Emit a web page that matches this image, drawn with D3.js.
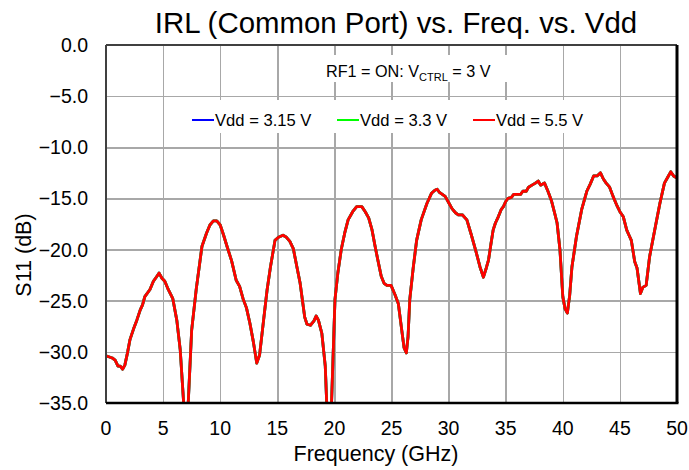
<!DOCTYPE html>
<meta charset="utf-8">
<style>
body { margin: 0; background: white; }
text { font-family: "Liberation Sans", Arial, sans-serif; fill: black; }
.grid line { stroke: #a8a8a8; stroke-width: 1.5px; shape-rendering: crispEdges; }
.grid path { stroke-width: 0; }
.tick-label { font-size: 19.5px; }
.axis-title { font-size: 21.5px; }
.title { font-size: 29.4px; }
.note { font-size: 16.2px; }
.legend-text { font-size: 16.6px; }
.trace { fill: none; stroke-width: 2.8px; stroke-linejoin: round; }
</style>
<body>
<script src="https://d3js.org/d3.v7.min.js"></script>
<script>

// frequency points (GHz)
var freqGHz = [0.0, 0.3, 0.55, 0.8, 1.05, 1.25, 1.45, 1.65, 1.9, 2.1, 2.4, 2.7, 3.0, 3.2, 3.4, 3.85, 4.15, 4.4, 4.65, 4.9,
    5.15, 5.45, 5.85, 6.2, 6.5, 6.8, 7.0, 7.2, 7.5, 7.9, 8.4, 8.8, 9.1, 9.4, 9.7, 10.0, 10.3, 10.6, 11.0, 11.4,
    11.7, 12.0, 12.3, 12.6, 12.9, 13.2, 13.45, 13.8, 14.1, 14.4, 14.8, 15.1, 15.5, 15.8, 16.1, 16.4, 16.7, 17.0, 17.4, 17.6,
    17.9, 18.2, 18.4, 18.6, 18.9, 19.2, 19.5, 19.75, 20.05, 20.3, 20.6, 20.9, 21.2, 21.6, 21.95, 22.4, 22.7, 23.0, 23.3, 23.55,
    23.8, 24.1, 24.35, 24.6, 24.96, 25.3, 25.6, 25.9, 26.1, 26.3, 26.45, 26.6, 26.9, 27.2, 27.6, 28.1, 28.5, 28.8, 29.0, 29.2,
    29.7, 30.0, 30.3, 30.6, 30.85, 31.2, 31.6, 32.0, 32.4, 32.75, 33.05, 33.3, 33.5, 33.7, 33.9, 34.1, 34.35, 34.6, 34.8, 35.0,
    35.2, 35.5, 35.7, 35.95, 36.3, 36.5, 36.8, 37.0, 37.3, 37.6, 37.85, 38.05, 38.4, 38.7, 39.0, 39.3, 39.5, 39.75, 40.0, 40.2,
    40.4, 40.6, 40.8, 41.2, 41.65, 42.1, 42.4, 42.7, 43.0, 43.3, 43.55, 43.8, 44.1, 44.4, 44.7, 45.0, 45.3, 45.6, 45.8, 46.0,
    46.3, 46.5, 46.8, 47.0, 47.3, 47.6, 48.1, 48.5, 48.9, 49.2, 49.45, 49.7, 50.0];

// S11 (dB) for Vdd = 5.5 V (drawn on top, the other two traces sit under it)
var s11Vdd55 = [-30.4, -30.5, -30.6, -30.8, -31.4, -31.4, -31.7, -31.3, -30.0, -28.8, -27.8, -26.9, -25.9, -25.4, -24.6, -23.9, -23.1, -22.7, -22.3, -22.8,
    -23.1, -23.9, -24.8, -26.9, -29.8, -35.0, -40.0, -35.0, -27.9, -23.9, -19.7, -18.4, -17.6, -17.2, -17.2, -17.6, -18.6, -19.7, -21.1, -23.0,
    -23.6, -24.8, -25.7, -27.2, -29.0, -31.1, -30.3, -26.9, -24.0, -21.7, -19.1, -18.8, -18.6, -18.8, -19.2, -19.9, -21.6, -23.3, -26.6, -27.3,
    -27.4, -27.0, -26.5, -26.9, -28.2, -31.4, -40.0, -35.0, -24.9, -22.3, -20.0, -18.4, -17.1, -16.3, -15.8, -15.8, -16.3, -16.9, -18.1, -19.6,
    -21.0, -22.6, -23.3, -23.5, -23.5, -24.4, -25.3, -27.9, -29.6, -30.1, -28.5, -24.9, -21.8, -19.1, -17.1, -15.5, -14.5, -14.2, -14.1, -14.4,
    -14.8, -15.4, -16.0, -16.4, -16.6, -16.6, -17.1, -18.6, -20.2, -21.7, -22.7, -21.8, -21.0, -19.5, -18.1, -17.4, -16.8, -16.1, -15.8, -15.3,
    -15.0, -14.9, -14.6, -14.6, -14.6, -14.3, -14.3, -13.9, -13.7, -13.5, -13.3, -13.7, -13.5, -14.3, -15.2, -16.5, -17.4, -20.0, -24.6, -25.8,
    -26.2, -24.5, -21.7, -18.7, -16.1, -14.3, -13.6, -12.8, -12.8, -12.5, -13.1, -13.5, -13.9, -14.8, -15.6, -16.3, -16.8, -18.1, -18.6, -19.1,
    -21.2, -21.8, -24.3, -23.7, -23.5, -20.7, -17.8, -15.5, -13.5, -12.9, -12.4, -12.8, -13.0];

// the 3.15 V and 3.3 V traces are hidden under the 5.5 V one in the picture
var s11Vdd315 = s11Vdd55.slice();
var s11Vdd33 = s11Vdd55.slice();

var seriesNames = ["Vdd = 3.15 V", "Vdd = 3.3 V", "Vdd = 5.5 V"];
var seriesColors = ["#0000ff", "#00ff00", "#ff0000"];
var seriesValues = [s11Vdd315, s11Vdd33, s11Vdd55];

var xTicks = [0, 5, 10, 15, 20, 25, 30, 35, 40, 45, 50];
var yTicks = [0, -5, -10, -15, -20, -25, -30, -35];

// set the dimensions and margins of the graph
var margin = {top: 45, right: 12, bottom: 67, left: 106},
    width = 689 - margin.left - margin.right,
    height = 470 - margin.top - margin.bottom;

var x = d3.scaleLinear().domain([0, 50]).range([0, width]);
var y = d3.scaleLinear().domain([-35, 0]).range([height, 0]);

var root = d3.select("body").append("svg")
    .attr("width", 689)
    .attr("height", 470);

var svg = root.append("g")
    .attr("transform", "translate(" + margin.left + "," + margin.top + ")");

svg.append("defs").append("clipPath")
    .attr("id", "plot-clip")
    .append("rect")
    .attr("width", width)
    .attr("height", height);

// grid lines
svg.append("g")
    .attr("class", "grid")
    .attr("transform", "translate(0," + height + ")")
    .call(d3.axisBottom(x).tickValues(xTicks).tickSize(-height).tickFormat(""));
svg.append("g")
    .attr("class", "grid")
    .call(d3.axisLeft(y).tickValues(yTicks).tickSize(-width).tickFormat(""));

// white boxes behind the note and the legend
svg.append("rect")
    .attr("x", x(17.8)).attr("y", 10)
    .attr("width", x(35.6) - x(17.8)).attr("height", 27)
    .attr("fill", "white");
svg.append("rect")
    .attr("x", x(7.3)).attr("y", 55)
    .attr("width", x(42.5) - x(7.3)).attr("height", 33)
    .attr("fill", "white");

// traces
var line = d3.line()
    .x(function(d, i) { return x(freqGHz[i]); })
    .y(function(d) { return y(d); });

svg.append("g")
    .attr("clip-path", "url(#plot-clip)")
    .selectAll("path")
    .data(seriesValues)
    .enter().append("path")
    .attr("class", "trace")
    .attr("stroke", function(d, i) { return seriesColors[i]; })
    .attr("d", line);

// plot frame
svg.append("line").attr("x1", 0).attr("x2", width).attr("y1", 0).attr("y2", 0)
    .attr("stroke", "#404040").attr("stroke-width", 2);
svg.append("line").attr("x1", 0).attr("x2", 0).attr("y1", 0).attr("y2", height)
    .attr("stroke", "#404040").attr("stroke-width", 2);
svg.append("line").attr("x1", 0).attr("x2", width + 1.5).attr("y1", height).attr("y2", height)
    .attr("stroke", "black").attr("stroke-width", 2.5);
svg.append("line").attr("x1", width).attr("x2", width).attr("y1", 0).attr("y2", height)
    .attr("stroke", "black").attr("stroke-width", 3);

// tick labels
svg.append("g").selectAll("text")
    .data(xTicks)
    .enter().append("text")
    .attr("class", "tick-label")
    .attr("x", function(d) { return x(d); })
    .attr("y", height + 32)
    .attr("text-anchor", "middle")
    .text(function(d) { return d; });

svg.append("g").selectAll("text")
    .data(yTicks)
    .enter().append("text")
    .attr("class", "tick-label")
    .attr("x", -18)
    .attr("y", function(d) { return y(d) + 7; })
    .attr("text-anchor", "end")
    .text(function(d) { return d3.format(".1f")(d); });

// axis titles
root.append("text")
    .attr("class", "axis-title")
    .attr("x", 376)
    .attr("y", 461)
    .attr("text-anchor", "middle")
    .text("Frequency (GHz)");

root.append("text")
    .attr("class", "axis-title")
    .attr("transform", "translate(31,255) rotate(-90)")
    .attr("text-anchor", "middle")
    .text("S11 (dB)");

// chart title
root.append("text")
    .attr("class", "title")
    .attr("x", 396)
    .attr("y", 33)
    .attr("text-anchor", "middle")
    .text("IRL (Common Port) vs. Freq. vs. Vdd");

// note
var note = root.append("text")
    .attr("class", "note")
    .attr("x", 326)
    .attr("y", 77);
note.append("tspan").text("RF1 = ON: V");
note.append("tspan").attr("font-size", "11px").attr("dy", 4).text("CTRL");
note.append("tspan").attr("dy", -4).text(" = 3 V");

// legend
var legendX = [192, 337, 473];
var legend = root.append("g").selectAll("g")
    .data(seriesNames)
    .enter().append("g")
    .attr("transform", function(d, i) { return "translate(" + legendX[i] + ",120)"; });
legend.append("line")
    .attr("x1", 0).attr("x2", 22)
    .attr("stroke", function(d, i) { return seriesColors[i]; })
    .attr("stroke-width", 2);
legend.append("text")
    .attr("class", "legend-text")
    .attr("x", 23)
    .attr("y", 5.5)
    .text(function(d) { return d; });

</script>
</body>
